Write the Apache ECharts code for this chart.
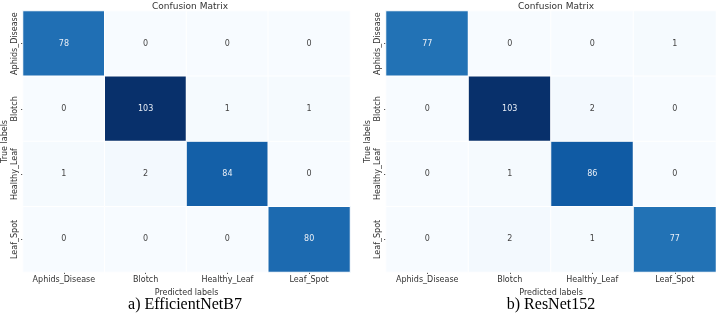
<!DOCTYPE html>
<html>
<head>
<meta charset="utf-8">
<script src="https://cdn.jsdelivr.net/npm/echarts@6/dist/echarts.min.js"></script>
<style>
html, body { margin: 0; padding: 0; background: #fff; }
#main { width: 716px; height: 313px; }
</style>
</head>
<body>
<div id="main"></div>
<script>
// class names, same order on both axes
const classes = ['Aphids_Disease', 'Blotch', 'Healthy_Leaf', 'Leaf_Spot'];

// rows = true label, cols = predicted label
const effNetMatrix = [
  [78, 0, 0, 0],
  [0, 103, 1, 1],
  [1, 2, 84, 0],
  [0, 0, 0, 80]
];
const resNetMatrix = [
  [77, 0, 0, 1],
  [0, 103, 2, 0],
  [0, 1, 86, 0],
  [0, 2, 1, 77]
];
const captions = ['a) EfficientNetB7', 'b) ResNet152'];

// matplotlib "Blues"
const blues = ['#f7fbff', '#deebf7', '#c6dbef', '#9ecae1', '#6baed6', '#4292c6', '#2171b5', '#08519c', '#08306b'];

function toCells(m) {
  let out = [];
  m.forEach((row, r) => row.forEach((v, c) => out.push({
    value: [c, r, v],
    label: { color: v > 50 ? '#e8eef6' : '#444' } // light text on dark cells
  })));
  return out;
}

const grids = [
  { left: 20, top: 11, width: 330, height: 261 },
  { left: 386, top: 11, width: 330, height: 261 }
];

let option = {
  animation: false,
  title: grids.map(g => ({
    text: 'Confusion Matrix',
    left: g.left + g.width / 2,
    top: -3,
    textAlign: 'center',
    textStyle: { fontSize: 9, fontWeight: 'normal', color: '#333', fontFamily: 'DejaVu Sans' }
  })),
  grid: grids,
  xAxis: grids.map((g, i) => ({
    type: 'category',
    gridIndex: i,
    data: classes,
    name: 'Predicted labels',
    nameLocation: 'middle',
    nameGap: 12,
    nameTextStyle: { fontSize: 8, color: '#333', fontFamily: 'DejaVu Sans' },
    axisLine: { show: false },
    axisTick: { show: true, alignWithLabel: true, interval: 0, length: 2, lineStyle: { color: '#555' } },
    axisLabel: { fontSize: 8, color: '#333', margin: 4, interval: 0, fontFamily: 'DejaVu Sans' },
    splitLine: { show: false }
  })),
  yAxis: grids.map((g, i) => ({
    type: 'category',
    gridIndex: i,
    data: classes,
    inverse: true,
    name: 'True labels',
    nameLocation: 'middle',
    nameRotate: 90,
    nameGap: 14,
    nameTextStyle: { fontSize: 8, color: '#333', fontFamily: 'DejaVu Sans' },
    axisLine: { show: false },
    axisTick: { show: true, alignWithLabel: true, interval: 0, length: 2, lineStyle: { color: '#555' } },
    axisLabel: { fontSize: 8, color: '#333', rotate: 90, margin: 4, interval: 0, hideOverlap: false, fontFamily: 'DejaVu Sans' },
    splitLine: { show: false }
  })),
  visualMap: {
    show: false,
    min: 0,
    max: 103,
    seriesIndex: [0, 1],
    inRange: { color: blues }
  },
  graphic: grids.map((g, i) => ({
    type: 'text',
    x: g.left + g.width / 2,
    y: 305,
    style: {
      text: captions[i],
      fontFamily: 'Liberation Serif',
      fontSize: 16,
      fill: '#000',
      align: 'center',
      verticalAlign: 'middle'
    }
  })),
  series: [effNetMatrix, resNetMatrix].map((m, i) => ({
    type: 'heatmap',
    xAxisIndex: i,
    yAxisIndex: i,
    data: toCells(m),
    itemStyle: { borderColor: '#fff', borderWidth: 1 },
    label: {
      show: true,
      fontSize: 8,
      fontFamily: 'DejaVu Sans',
      formatter: p => p.value[2]
    }
  }))
};

let myChart = echarts.init(document.getElementById('main'));
myChart.setOption(option);
</script>
</body>
</html>
